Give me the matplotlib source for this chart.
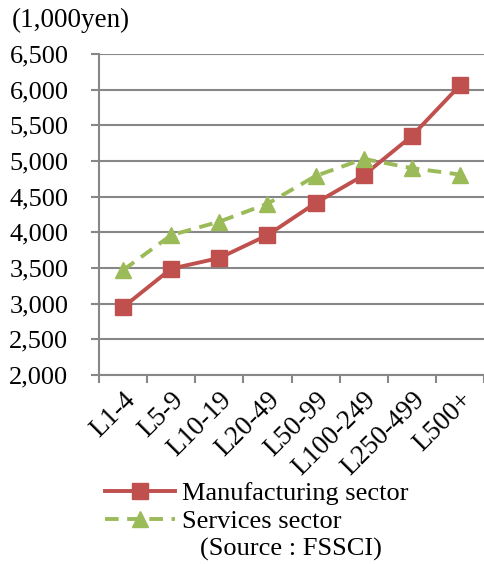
import numpy as np
from matplotlib import pyplot as plt
from matplotlib.ticker import FuncFormatter

categories = ["L1-4", "L5-9", "L10-19", "L20-49", "L50-99", "L100-249", "L250-499", "L500+"]
manufacturing = [2950, 3490, 3640, 3960, 4410, 4800, 5350, 6060]
services = [3470, 3960, 4150, 4400, 4790, 5030, 4900, 4810]

plt.rcParams['font.family'] = ['Liberation Serif', 'DejaVu Serif']

fig = plt.figure(figsize=(4.84, 5.64), dpi=100)
ax = fig.add_axes([99/484, 1-375/564, 385/484, 321/564])

x = np.arange(len(categories))
red = '#C0504D'
green = '#9BBB59'
ax.plot(x, manufacturing, '-s', color=red, lw=2.8, ms=11, label='Manufacturing sector', zorder=3)
ax.plot(x, services, '--^', color=green, lw=2.8, ms=11, dashes=(3.5, 2.2), label='Services sector', zorder=3)

ax.set_xlim(-0.5, len(categories) - 0.5)
ax.set_ylim(2000, 6500)
ax.set_yticks(np.arange(2000, 6501, 500))
ax.yaxis.set_major_formatter(FuncFormatter(lambda v, p: f"{int(v):,}"))
ax.grid(axis='y', color='#878787', lw=1.5)
ax.set_axisbelow(True)

ax.set_xticks(x)
ax.set_xticklabels(categories, rotation=45, ha='right', va='top', rotation_mode='anchor', fontsize=19.5)
ax.set_xticks(np.arange(-0.5, len(categories)), minor=True)
ax.tick_params(axis='x', which='major', length=0, pad=9)
ax.tick_params(axis='x', which='minor', length=6, width=1.5, color='#878787')
ax.tick_params(axis='y', length=6, width=1.5, color='#878787', labelsize=19, pad=16)

for s in ['top', 'right']:
    ax.spines[s].set_visible(False)
for s in ['left', 'bottom']:
    ax.spines[s].set_color('#878787')
    ax.spines[s].set_linewidth(1.5)

fig.text(12/484, 1-20/564, '(1,000yen)', fontsize=19.5, va='center', ha='left')

leg = fig.legend(loc='upper left', bbox_to_anchor=(105/484, 1-482/564), frameon=False,
                 fontsize=19, handlelength=2.65, handletextpad=0.27, labelspacing=0.15,
                 borderpad=0, borderaxespad=0)
fig.text(200/484, 1-549/564, '(Source : FSSCI)', fontsize=19, va='center', ha='left')

fig.savefig('out.png', dpi=100)
